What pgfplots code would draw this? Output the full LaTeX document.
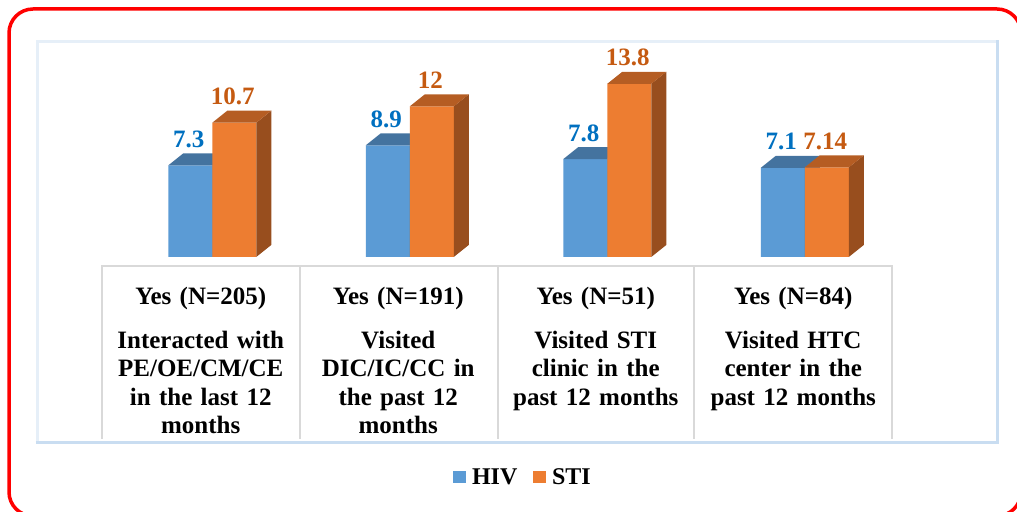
\documentclass[border=0pt]{standalone}
\usepackage{pgfplots}
\pgfplotsset{compat=1.18}
\usepackage{pgfplotstable}
\usepackage{fontspec}
\setmainfont{Liberation Serif}
\definecolor{hivblue}{HTML}{5B9BD5}
\definecolor{hivtop}{HTML}{44739F}
\definecolor{hivside}{HTML}{3B6690}
\definecolor{stiorange}{HTML}{ED7D31}
\definecolor{stitop}{HTML}{B55D23}
\definecolor{stiside}{HTML}{984E1E}
\definecolor{lblblue}{HTML}{0070C0}
\definecolor{lblorange}{HTML}{C55A11}
\definecolor{gridgray}{HTML}{D9D9D9}
\definecolor{frameblue}{HTML}{C9DDF1}
\definecolor{framelight}{HTML}{E6EFF8}

\pgfplotstableread{
x hiv sti
0 7.3 10.7
1 8.9 12
2 7.8 13.8
3 7.1 7.14
}\datatable

\begin{document}
\begin{tikzpicture}
\begin{scope}[x=1bp,y=1bp]
\useasboundingbox (0,0) rectangle (1017,512);
\clip (0,0) rectangle (1017,512);
% outer red rounded border
\draw[red, line width=3.5bp, rounded corners=24bp] (9,503) rectangle (1021,-4);
% inner chart-area frame
\draw[framelight, line width=3bp] (37,69) -- (37,470) -- (997,470);
\draw[frameblue, line width=3bp] (35.5,69) -- (997,69) -- (997,471.5);
% category table grid
\draw[gridgray, line width=1.5bp] (102,73) -- (102,246) -- (892,246) -- (892,73);
\foreach \gx in {300,498,694} \draw[gridgray, line width=1.5bp] (\gx,73) -- (\gx,246);
\end{scope}

\begin{axis}[
  at={(113.5bp,255bp)}, anchor=south west,
  scale only axis, width=790bp, height=200.8bp,
  xmin=-0.5, xmax=3.5, ymin=0, ymax=16,
  clip=false,
  axis line style={draw=none},
  major tick length=0pt,
  ytick=\empty,
  xtick={0,1,2,3},
  xticklabels={
    {Yes (N=205)\\[15.5bp]Interacted with\\PE/OE/CM/CE\\in the last 12\\months},
    {Yes (N=191)\\[15.5bp]Visited\\DIC/IC/CC in\\the past 12\\months},
    {Yes (N=51)\\[15.5bp]Visited STI\\clinic in the\\past 12 months},
    {Yes (N=84)\\[15.5bp]Visited HTC\\center in the\\past 12 months}},
  xticklabel style={anchor=north, inner sep=0pt, yshift=-29.7bp, xshift=-11.5bp,
    text width=196bp, align=center,
    font=\fontsize{25bp}{28.5bp}\selectfont\bfseries},
  ybar=0pt, bar width=44bp,
  nodes near coords={\pgfmathprintnumber[precision=2,assume math mode=true]{\pgfplotspointmeta}},
  nodes near coords style={anchor=base, yshift=18bp, xshift=-1.5bp, inner sep=0pt,
    font=\fontsize{25bp}{28bp}\selectfont\bfseries},
  legend columns=2,
  legend image code/.code={\fill[#1] (0bp,-6.3bp) rectangle (12.7bp,6.3bp);},
  legend style={draw=none, fill=none, at={(0.5171,-1.0956)}, anchor=center,
    font=\fontsize{24bp}{28bp}\selectfont\bfseries,
    nodes={inner sep=0pt},
    /tikz/every odd column/.append style={column sep=6bp},
    /tikz/every even column/.append style={column sep=16bp}},
]
\addplot[fill=hivblue, draw=none, every node near coord/.append style={text=lblblue}]
  table[x=x, y=hiv]{\datatable};
\addlegendentry{HIV}
\pgfplotsextra{
  \pgfplotstablegetrowsof{\datatable}
  \pgfmathtruncatemacro\nrows{\pgfplotsretval-1}
  \foreach \i in {0,...,\nrows}{
    \pgfplotstablegetelem{\i}{hiv}\of\datatable \let\v\pgfplotsretval
    \pgfplotstablegetelem{\i}{x}\of\datatable \let\xx\pgfplotsretval
    \coordinate (T) at (axis cs:\xx,\v);
    \coordinate (B) at (axis cs:\xx,0);
    \fill[hivside] (T) -- (B) -- ([shift={(15bp,12bp)}]B) -- ([shift={(15bp,12bp)}]T) -- cycle;
    \fill[hivtop] ([xshift=-44bp]T) -- (T) -- ([shift={(15bp,12bp)}]T) -- ([shift={(-29bp,12bp)}]T) -- cycle;
  }
}
\addplot[fill=stiorange, draw=none, every node near coord/.append style={text=lblorange}]
  table[x=x, y=sti]{\datatable};
\addlegendentry{STI}
\pgfplotsextra{
  \pgfplotstablegetrowsof{\datatable}
  \pgfmathtruncatemacro\nrows{\pgfplotsretval-1}
  \foreach \i in {0,...,\nrows}{
    \pgfplotstablegetelem{\i}{sti}\of\datatable \let\v\pgfplotsretval
    \pgfplotstablegetelem{\i}{x}\of\datatable \let\xx\pgfplotsretval
    \coordinate (T) at ([xshift=44bp]axis cs:\xx,\v);
    \coordinate (B) at ([xshift=44bp]axis cs:\xx,0);
    \fill[stiside] (T) -- (B) -- ([shift={(15bp,12bp)}]B) -- ([shift={(15bp,12bp)}]T) -- cycle;
    \fill[stitop] ([xshift=-44bp]T) -- (T) -- ([shift={(15bp,12bp)}]T) -- ([shift={(-29bp,12bp)}]T) -- cycle;
  }
}
\end{axis}
\end{tikzpicture}
\end{document}
